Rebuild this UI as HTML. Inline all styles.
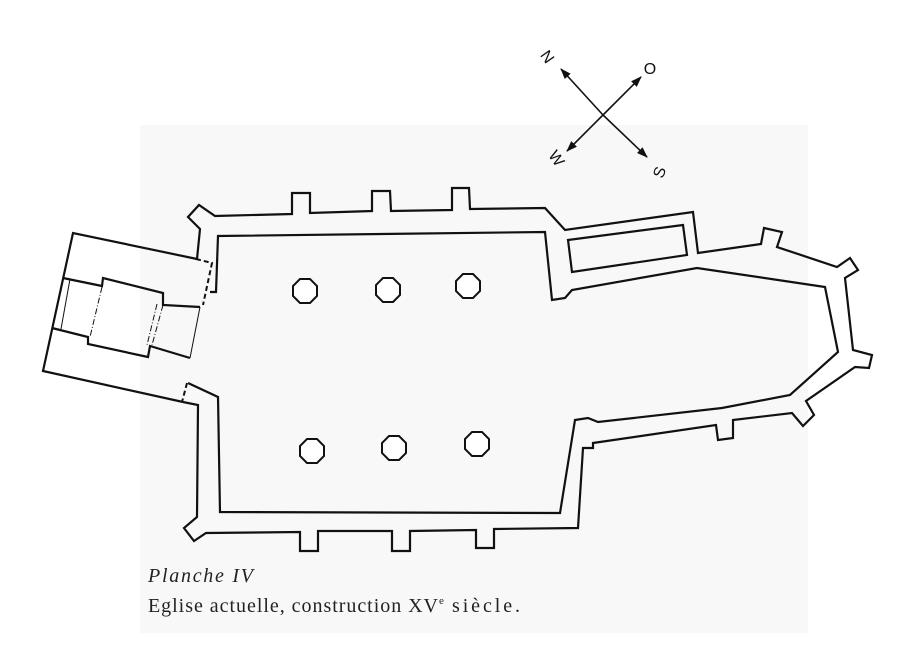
<!DOCTYPE html>
<html><head><meta charset="utf-8"><style>
html,body{margin:0;padding:0;background:#fff;}
body{width:920px;height:670px;overflow:hidden;position:relative;}
svg{position:absolute;left:0;top:0;}
</style></head><body>
<svg width="920" height="670" viewBox="0 0 920 670" xmlns="http://www.w3.org/2000/svg">
<rect x="0" y="0" width="920" height="670" fill="#ffffff"/>
<rect x="140" y="125" width="668" height="508" fill="#f8f8f8"/>
<defs>
<marker id="ah" markerWidth="11" markerHeight="8" refX="10" refY="4" orient="auto" markerUnits="userSpaceOnUse">
<path d="M0,0 L11,4 L0,8 Z" fill="#111"/>
</marker>
</defs>
<g stroke="#111" stroke-width="1.6" fill="none">
<line x1="603" y1="115" x2="561" y2="69" marker-end="url(#ah)"/>
<line x1="603" y1="115" x2="647" y2="157" marker-end="url(#ah)"/>
<line x1="603" y1="115" x2="641" y2="77" marker-end="url(#ah)"/>
<line x1="603" y1="115" x2="567" y2="151" marker-end="url(#ah)"/>
</g>
<g font-family="Liberation Sans, sans-serif" font-size="16" fill="#111" text-anchor="middle">
<text x="547" y="62" transform="rotate(55 547 57)">N</text>
<text x="650" y="74">O</text>
<text x="557" y="164" transform="rotate(55 557 158)">W</text>
<text x="659" y="178" transform="rotate(-70 659 172)">S</text>
</g>

<g stroke="#111" stroke-width="2.2" fill="none" stroke-linejoin="miter">
<path d="M197,259 L200,229 L188,217 L199,205 L215,216 L292,214 L292,193 L310,193 L310,213 L372,211 L372,191 L390,191 L391,211 L452,210 L452,188 L469,188 L470,209 L545,208 L565,230 L693,212 L698,253 L761,244 L764,228 L782,232 L777,247 L837,267 L850,258 L858,270 L845,278 L853,350 L872,355 L869,368 L855,367 L806,401 L814,415 L803,426 L792,413 L733,420 L733,438 L718,440 L716,425 L593,443 L593,448 L583,448 L578,528 L494,529 L494,548 L476,548 L476,530 L410,531 L410,551 L392,551 L392,531 L318,531 L318,551 L300,551 L300,532 L206,533 L194,541 L184,528 L197,517 L198,405 L183,402"/>
<path d="M210,292 L216,292 L218,236 L545,232 L552,300 L565,298 L572,290 L697,268 L825,287 L838,352 L790,395 L722,408 L598,422 L588,418 L575,420 L560,513 L220,512 L218,397 L188,383"/>
<path d="M568,240 L683,225 L687,255 L572,272 Z"/>
<path d="M197,259 L73,233 L43,371 L183,402"/>
<path d="M63,278 L102,286 L103,278 L163,293 L163,305 L200,307"/>
<path d="M52,328 L88,337 L88,344 L148,357 L150,346 L190,358"/>
</g>
<g stroke="#111" stroke-width="1" fill="none">
<path d="M70,279 L61,329"/>
<path d="M102,287 L90,337" stroke-dasharray="6,2,1,2"/>
<path d="M163,305 L152,345" stroke-dasharray="6,2,1,2"/>
<path d="M157,304 L147,345" stroke-dasharray="6,2,1,2"/>
<path d="M200,307 L190,358"/>
</g>
<g stroke="#111" stroke-width="2" fill="none" stroke-dasharray="5,3">
<path d="M196,259 L212,263 L203,305"/>
<path d="M187,383 L182,402"/>
</g>
<g stroke="#111" stroke-width="2" fill="#fff">
<polygon points="300,279 310,279 317,286 317,296 310,303 300,303 293,296 293,286"/>
<polygon points="383,278 393,278 400,285 400,295 393,302 383,302 376,295 376,285"/>
<polygon points="463,274 473,274 480,281 480,291 473,298 463,298 456,291 456,281"/>
<polygon points="307,439 317,439 324,446 324,456 317,463 307,463 300,456 300,446"/>
<polygon points="389,436 399,436 406,443 406,453 399,460 389,460 382,453 382,443"/>
<polygon points="472,432 482,432 489,439 489,449 482,456 472,456 465,449 465,439"/>
</g>
<g font-family="Liberation Serif, serif" fill="#222">
<text x="148" y="582" font-size="20" font-style="italic" textLength="105" lengthAdjust="spacing">Planche IV</text>
<text x="148" y="612" font-size="20" textLength="290" lengthAdjust="spacing">Eglise actuelle, construction XV</text>
<text x="439" y="604" font-size="11">e</text>
<text x="452" y="612" font-size="20" textLength="68" lengthAdjust="spacing">siècle.</text>
</g>
</svg>
</body></html>
